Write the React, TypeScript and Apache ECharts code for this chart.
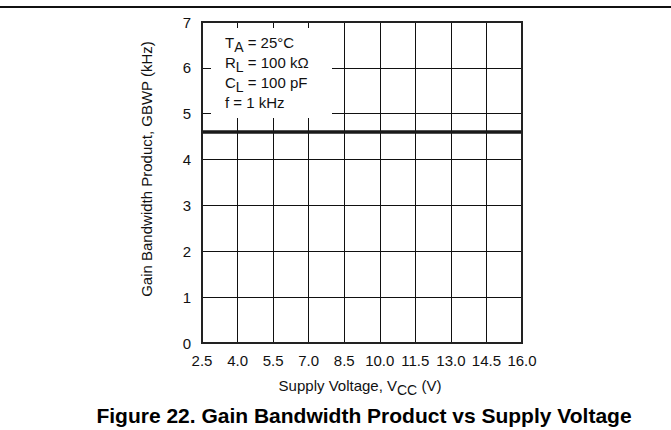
import React, { useEffect, useRef } from "react";
import * as echarts from "echarts";

const xTicks = [2.5, 4.0, 5.5, 7.0, 8.5, 10.0, 11.5, 13.0, 14.5, 16.0];
const yTicks = [0, 1, 2, 3, 4, 5, 6, 7];
const supplyVoltage = [2.5, 16.0];
const gbwp = [4.6, 4.6];
const conditions = ["T{sub|A} = 25°C", "R{sub|L} = 100 kΩ", "C{sub|L} = 100 pF", "f = 1 kHz"];
const FONT = "Liberation Sans, Arial, sans-serif";

export default function App() {
  const ref = useRef<HTMLDivElement>(null);
  useEffect(() => {
    document.body.style.margin = "0";
    const chart = echarts.init(ref.current!, null, { renderer: "svg" });
    const gridLeft = 202, gridTop = 22, gridRight = 671 - 522, gridBottom = 430 - 343;
    const subStyle = { fontSize: 14, fontFamily: FONT, fill: "#111", padding: [9, 0, 0, 0] };
    chart.setOption({
      animation: false,
      backgroundColor: "#fff",
      textStyle: { fontFamily: FONT },
      grid: { left: gridLeft, top: gridTop, right: gridRight, bottom: gridBottom, containLabel: false },
      xAxis: {
        type: "value",
        min: xTicks[0],
        max: xTicks[xTicks.length - 1],
        interval: 1.5,
        axisLine: { show: false },
        axisTick: { show: false },
        splitLine: { show: true, lineStyle: { color: "#111", width: 1 } },
        axisLabel: {
          color: "#111",
          fontSize: 15,
          fontFamily: FONT,
          margin: 10,
          formatter: (v: number) => v.toFixed(1),
        },
      },
      yAxis: {
        type: "value",
        min: yTicks[0],
        max: yTicks[yTicks.length - 1],
        interval: 1,
        axisLine: { show: false },
        axisTick: { show: false },
        splitLine: { show: true, lineStyle: { color: "#111", width: 1 } },
        axisLabel: { color: "#111", fontSize: 15, fontFamily: FONT, margin: 11 },
      },
      series: [
        {
          type: "line",
          data: supplyVoltage.map((x, i) => [x, gbwp[i]]),
          symbol: "none",
          lineStyle: { color: "#1a1a1a", width: 3.5 },
          z: 5,
        },
      ],
      graphic: [
        { type: "line", shape: { x1: 0, y1: 7, x2: 671, y2: 7 }, style: { stroke: "#111", lineWidth: 2 }, z: 10 },
        { type: "rect", shape: { x: gridLeft, y: gridTop, width: 522 - gridLeft, height: 343 - gridTop }, style: { fill: "none", stroke: "#222", lineWidth: 2 }, z: 10 },
        { type: "rect", shape: { x: 211, y: 28, width: 121, height: 90 }, style: { fill: "#fff" }, z: 8 },
        ...conditions.map((t, i) => ({
          type: "text",
          x: 225,
          y: 42 + i * 20,
          z: 9,
          style: {
            text: t,
            fill: "#111",
            font: `15px ${FONT}`,
            verticalAlign: "middle",
            rich: { sub: subStyle },
          },
        })),
        {
          type: "text",
          x: 146,
          y: 169,
          rotation: Math.PI / 2,
          z: 9,
          style: { text: "Gain Bandwidth Product, GBWP (kHz)", fill: "#111", font: `15px ${FONT}`, align: "center", verticalAlign: "middle" },
        },
        {
          type: "text",
          x: 360,
          y: 385,
          z: 9,
          style: {
            text: "Supply Voltage, V{sub|CC} (V)",
            fill: "#111",
            font: `15px ${FONT}`,
            align: "center",
            verticalAlign: "middle",
            rich: { sub: subStyle },
          },
        },
        {
          type: "text",
          x: 364,
          y: 415,
          z: 9,
          style: { text: "Figure 22. Gain Bandwidth Product vs Supply Voltage", fill: "#000", font: `bold 21px ${FONT}`, align: "center", verticalAlign: "middle" },
        },
      ],
    });
    return () => chart.dispose();
  }, []);
  return <div ref={ref} style={{ width: 671, height: 430, position: "absolute", left: 0, top: 0 }} />;
}
